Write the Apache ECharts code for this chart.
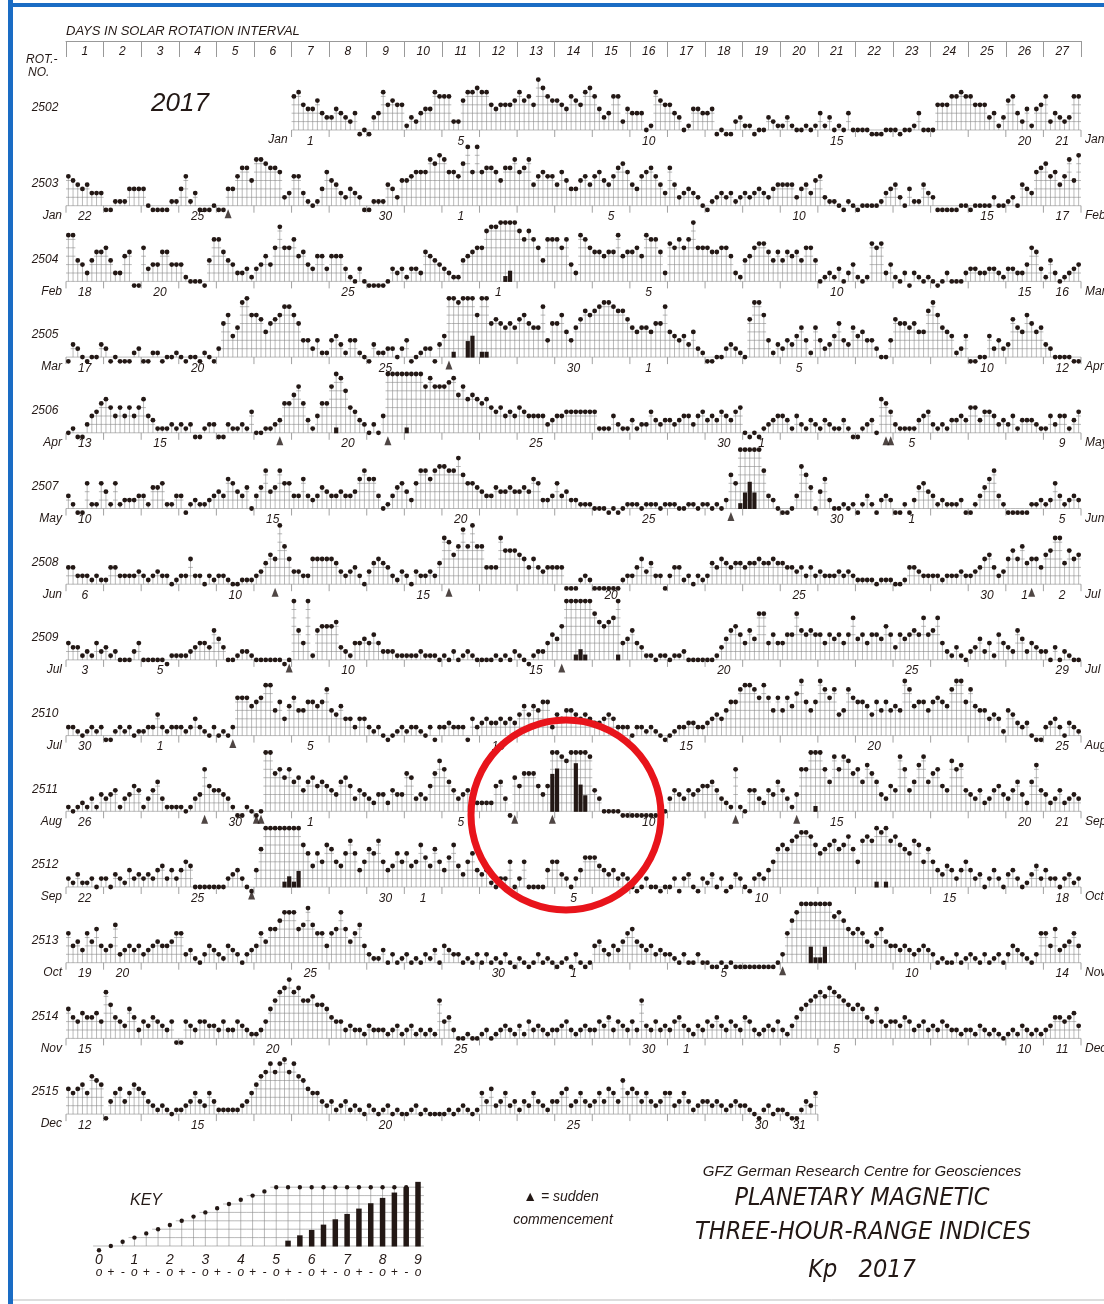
<!DOCTYPE html>
<html><head><meta charset="utf-8">
<script src="https://cdn.jsdelivr.net/npm/echarts@6/dist/echarts.min.js"></script>
<style>html,body{margin:0;padding:0;background:#fff;}#c{width:1104px;height:1304px;}</style>
</head><body><div id="c"></div>
<script>
// ---------------- DATA (Kp in thirds: 0o=0, 0+=1, 1-=2, 1o=3 ... 9o=27), 8 values per day ----------------
const rotNumbers = [2502,2503,2504,2505,2506,2507,2508,2509,2510,2511,2512,2513,2514,2515];
const rowStartDay = [7,1,1,1,1,1,1,1,1,1,1,1,1,1];
const dayNumbers = ['1','2','3','4','5','6','7','8','9','10','11','12','13','14','15','16','17','18','19','20','21','22','23','24','25','26','27'];
const monthNames = ['Jan','Feb','Mar','Apr','May','Jun','Jul','Aug','Sep','Oct','Nov','Dec'];
const labelledDates = [1,5,10,15,20,25,30];

const rot2502 = [
 9,10,7,6,6,8,5,4, 4,6,5,4,3,5,0,1, 0,4,5,10,7,8,7,7, 2,4,3,5,6,6,10,9, 9,9,3,3,8,10,10,11,
 10,10,7,6,7,7,7,8, 10,8,9,7,13,11,9,8, 8,7,6,9,8,7,10,11, 9,6,4,5,9,9,3,6, 5,5,5,1,2,10,8,7,
 7,5,4,1,2,6,6,5, 5,6,0,1,0,0,3,4, 2,2,0,1,1,4,3,2, 2,4,2,1,1,2,1,2, 5,2,4,1,2,1,5,1,
 1,1,1,0,0,0,1,1, 1,0,1,1,2,5,1,1, 1,7,7,7,9,9,10,9, 9,7,7,7,4,5,2,4, 8,9,5,3,6,2,6,7,
 9,3,5,4,3,4,9,9];
const rot2503 = [
 8,7,6,5,6,4,4,4, 0,0,2,2,2,5,5,5, 5,1,0,0,0,0,2,2, 5,8,2,4,0,0,0,1, 0,0,5,5,8,10,10,7,
 12,12,11,10,10,9,3,4, 8,8,4,2,1,2,5,9, 7,6,4,3,5,4,3,0, 0,2,2,2,6,5,3,7, 7,8,9,9,9,12,11,13,
 12,9,9,8,11,15,9,15, 9,10,10,9,7,10,10,12, 9,10,12,6,8,9,8,8, 6,9,7,5,5,7,8,6, 8,9,7,6,8,10,11,9,
 6,5,8,9,10,8,6,4, 10,6,3,4,5,4,3,1, 0,2,3,4,3,4,2,3, 4,3,4,5,4,3,5,6, 6,6,6,3,5,6,4,7,
 8,3,2,2,1,0,2,1, 0,1,1,1,1,2,4,5, 6,3,1,5,2,2,6,4, 3,0,0,0,0,0,1,1, 0,1,1,1,1,3,1,1,
 2,3,1,6,5,4,9,10, 11,8,9,6,8,12,7,13];
const rot2504 = [
 12,12,6,5,3,6,8,8, 9,6,3,3,7,8,0,0, 9,4,5,5,8,8,5,5, 5,2,1,1,1,0,6,11, 11,8,6,5,3,3,4,2,
 4,5,7,5,9,14,9,9, 11,7,8,5,4,7,7,4, 7,7,7,4,2,1,4,1, 0,0,0,0,1,4,3,4, 2,4,4,3,8,7,6,5,
 4,3,2,2,6,7,8,9, 9,13,14,14,15,16,17,15, 13,11,13,11,9,6,11,11, 11,9,11,5,3,12,11,9, 8,8,7,8,8,12,7,8,
 8,9,7,12,11,11,8,3, 10,9,11,9,11,15,9,9, 9,8,8,9,9,7,3,2, 6,7,9,10,10,8,6,8, 6,8,7,8,6,9,9,6,
 1,2,3,2,4,1,3,5, 2,1,2,10,9,10,3,5, 2,1,3,0,3,2,1,2, 1,0,1,3,1,1,1,3, 4,4,3,3,4,4,3,2,
 4,4,3,3,5,9,8,4, 2,6,3,1,2,3,4,5];
const rot2505 = [
 0,4,3,1,0,1,1,4, 3,0,1,0,0,0,2,3, 0,0,2,2,0,1,1,2, 1,0,1,1,0,2,1,0, 3,9,11,6,8,14,15,11,
 11,10,7,9,10,11,13,13, 11,9,5,5,3,5,2,2, 5,6,4,2,5,5,2,1, 0,4,2,2,3,3,1,3, 5,0,1,2,3,3,0,4,
 6,15,16,14,15,18,19,11, 16,16,9,10,9,8,9,8, 10,11,9,8,8,13,5,9, 9,11,7,5,8,10,12,11, 12,13,14,14,13,12,12,10,
 8,7,8,8,7,9,9,13, 7,6,5,6,4,7,3,2, 0,0,1,1,3,4,3,2, 1,10,14,14,11,5,2,4, 3,5,4,6,8,5,2,8,
 5,3,4,6,9,5,4,8, 6,7,5,5,3,1,1,5, 10,9,9,8,9,7,7,12, 14,11,8,7,6,2,3,6, 0,0,1,1,6,3,5,3,
 4,10,8,7,11,9,7,8, 4,3,1,1,1,1,0,0];
const rot2506 = [
 1,2,0,0,3,5,6,8, 9,7,5,7,5,7,5,7, 9,5,4,2,2,2,3,2, 3,2,3,0,0,2,3,3, 0,0,3,2,2,3,2,6,
 1,1,2,2,3,4,8,8, 10,12,8,4,2,5,8,8, 12,16,14,11,7,6,4,3, 1,3,1,5,15,15,15,15, 16,15,15,15,12,14,12,12,
 12,13,14,10,12,9,10,9, 8,9,7,6,7,5,6,5, 7,6,5,5,5,5,3,4, 5,5,6,6,6,6,6,6, 6,2,2,2,5,3,2,2,
 4,2,3,3,6,4,3,4, 4,3,4,5,5,3,5,6, 4,5,4,6,5,4,6,7, 1,0,1,0,2,3,4,5, 5,4,2,5,3,2,4,3,
 2,4,3,2,2,4,2,0, 0,2,3,4,1,9,8,6, 3,2,2,2,2,4,5,6, 3,2,3,2,4,4,5,4, 7,7,4,6,6,5,3,4,
 3,5,2,4,4,4,3,2, 2,5,3,5,5,2,4,6];
const rot2507 = [
 4,2,0,0,7,2,2,7, 5,2,7,2,3,3,3,4, 4,2,6,6,7,2,2,4, 4,0,2,3,2,2,3,4, 5,4,8,7,5,4,6,1,
 4,6,10,5,6,10,7,7, 4,4,8,4,3,4,6,5, 4,4,5,4,4,5,8,10, 8,8,4,1,2,4,6,7, 5,3,7,10,10,8,10,11,
 11,10,10,13,9,7,7,6, 5,4,4,6,5,5,6,5, 5,6,5,8,7,3,3,4, 7,4,5,3,3,2,2,2, 1,1,1,0,1,0,1,2,
 2,2,1,2,2,2,1,2, 2,2,1,1,2,2,1,2, 2,1,2,1,3,9,7,16, 18,20,18,15,10,4,3,1, 0,0,1,4,11,9,6,1,
 5,8,3,1,1,2,1,2, 0,2,4,2,0,3,4,3, 0,0,2,0,3,6,7,5, 4,2,3,2,2,2,3,0, 0,2,4,6,8,10,4,2,
 0,0,0,0,0,2,2,3, 2,3,7,4,2,3,4,3];
const rot2508 = [
 5,5,3,3,3,2,3,2, 2,5,5,3,3,3,3,4, 3,2,3,4,3,3,1,2, 3,3,7,3,3,1,3,2, 3,3,2,1,1,2,2,2,
 3,4,6,8,7,15,10,7, 4,4,3,3,7,7,7,7, 7,6,4,3,4,5,3,1, 4,6,7,6,5,3,2,4, 3,1,4,3,3,4,3,6,
 12,11,8,10,14,10,15,10, 10,5,5,5,12,9,9,9, 8,7,5,7,5,4,5,5, 5,5,0,0,0,2,3,2, 0,0,0,0,0,0,2,3,
 3,5,7,4,6,3,3,0, 3,5,5,2,3,1,3,2, 3,6,5,7,6,5,6,6, 5,6,6,7,6,6,7,6, 6,5,5,4,5,3,5,3,
 4,3,3,3,4,3,4,3, 2,2,2,2,1,2,2,2, 1,1,2,5,5,4,3,3, 3,3,2,3,3,3,4,3, 3,4,5,7,8,5,3,4,
 7,9,7,10,6,7,7,5, 8,9,12,12,6,9,7,8];
const rot2509 = [
 5,4,4,2,3,2,5,3, 4,2,3,1,1,1,3,5, 1,1,1,1,1,0,2,2, 2,2,3,4,5,5,4,8, 6,4,1,1,2,3,3,2,
 1,1,1,1,1,1,0,1, 15,8,5,15,2,8,9,9, 9,10,4,3,2,5,5,6, 5,7,5,3,3,3,2,2, 2,2,2,3,2,2,2,1,
 2,1,3,1,2,3,2,1, 1,1,1,2,1,2,1,3, 2,1,0,2,3,3,5,7, 6,9,15,15,16,17,16,15, 12,10,9,10,11,16,5,6,
 8,5,4,2,2,1,2,2, 1,2,2,3,1,1,1,1, 1,1,2,4,6,8,9,7, 5,8,6,12,12,5,7,5, 5,7,7,12,8,7,8,7,
 7,5,7,6,7,5,7,11, 6,7,5,7,7,6,9,7, 4,7,6,7,8,7,11,7, 8,11,5,3,2,4,2,1, 3,4,6,3,5,2,7,5,
 4,3,8,6,3,5,4,3, 3,1,4,1,3,2,1,1];
const rot2510 = [
 3,3,2,1,2,3,2,3, 0,0,2,3,2,3,1,2, 2,3,3,6,3,2,3,3, 3,2,3,5,3,2,1,3, 1,2,1,3,10,10,10,8,
 9,10,13,13,7,9,5,8, 10,7,7,9,9,8,9,12, 7,6,8,5,5,3,5,5, 3,2,3,1,0,1,2,3, 2,3,3,2,1,3,0,3,
 3,4,3,3,3,0,5,3, 4,5,4,4,5,4,5,4, 6,8,6,8,7,9,9,3, 6,5,7,7,6,5,6,5, 4,4,5,6,5,3,3,3,
 1,3,3,2,3,2,1,0, 1,2,3,3,4,4,3,3, 4,5,6,5,7,9,9,12, 13,13,12,10,13,10,7,10, 7,10,8,11,14,9,7,9,
 14,12,10,12,6,7,12,10, 9,9,8,6,9,7,9,7, 8,7,14,12,8,9,9,7, 9,10,9,8,12,14,14,9, 12,8,7,7,5,6,5,2,
 7,6,4,3,4,1,0,0, 3,4,5,3,1,4,3,2];
const rot2511 = [
 2,1,2,3,2,4,2,5, 4,5,6,2,4,5,7,6, 2,4,6,8,4,2,2,2, 2,1,2,4,5,11,7,6, 6,5,4,2,0,0,2,1,
 0,1,15,15,10,11,9,11, 8,9,6,8,9,7,8,7, 6,5,8,9,7,4,6,5, 4,3,5,5,3,6,5,5, 10,9,4,5,4,7,10,13,
 11,8,6,4,5,6,3,3, 3,3,3,7,8,4,0,9, 7,10,10,10,7,5,7,22, 23,14,13,15,24,20,18,14, 6,4,1,1,1,1,0,0,
 0,0,0,0,0,0,0,1, 4,6,5,4,6,5,6,7, 7,8,6,4,3,2,11,2, 1,6,6,4,3,6,5,8, 6,4,2,5,11,11,15,16,
 15,11,8,14,11,14,13,10, 11,8,12,10,8,5,4,7, 6,14,11,6,8,12,14,8, 10,11,7,6,13,11,12,6, 5,4,6,3,4,6,7,5,
 4,6,8,5,3,8,12,6, 5,3,4,6,3,4,5,4];
const rot2512 = [
 3,2,4,2,2,3,1,3, 3,1,4,3,2,5,3,4, 3,4,3,5,6,3,5,3, 5,7,6,1,1,1,1,1, 1,1,3,4,5,3,1,0,
 5,10,15,15,15,15,16,17, 16,18,11,9,6,9,7,11, 10,7,6,9,12,9,5,7, 10,9,12,7,5,6,9,7, 9,6,7,11,8,6,10,7,
 5,8,11,6,4,7,9,5, 4,5,2,1,3,3,7,1, 3,7,1,1,1,1,5,7, 7,4,3,1,3,5,8,8, 8,6,5,4,5,3,4,3,
 1,0,1,3,1,1,0,1, 1,3,0,3,4,1,0,3, 2,4,1,3,0,1,4,3, 1,0,3,4,3,5,7,10, 11,10,12,13,14,14,13,11,
 9,10,11,12,10,11,13,10, 7,12,13,12,16,14,16,12, 13,11,10,9,12,11,7,10, 7,5,4,6,5,3,5,7, 5,3,4,1,3,5,3,1,
 4,5,3,1,2,4,6,3, 5,3,3,1,3,4,2,3];
const rot2513 = [
 8,5,6,4,8,6,9,5, 4,5,10,3,4,5,4,5, 3,4,5,6,5,5,6,8, 8,3,4,2,1,3,5,4, 3,2,5,4,3,1,3,4,
 5,8,6,9,9,11,13,13, 13,9,10,14,10,8,8,5, 8,9,13,9,6,8,10,5, 3,2,2,4,1,3,1,2, 3,1,2,1,3,2,4,1,
 5,4,3,3,1,2,1,3, 1,3,1,2,1,3,1,0, 2,1,0,1,3,1,2,1, 0,1,2,0,3,1,0,1, 5,6,4,3,5,4,6,8,
 9,6,5,4,5,3,4,3, 3,2,1,3,1,1,3,1, 1,0,0,1,0,1,0,0, 0,0,0,0,0,0,0,1, 3,8,11,13,15,15,18,16,
 16,18,15,12,13,11,9,8, 9,8,6,5,8,9,6,5, 5,4,5,4,3,4,5,4, 3,1,2,1,1,3,1,2, 3,2,1,3,1,2,3,1,
 3,5,4,3,2,1,3,8, 8,5,9,4,5,6,8,5];
const rot2514 = [
 8,6,5,7,6,6,7,5, 12,9,6,5,4,8,6,3, 5,4,6,5,4,3,5,0, 0,5,4,3,5,5,4,4, 3,5,3,3,5,4,3,2,
 2,3,5,8,10,12,13,15, 12,13,10,10,11,9,9,8, 6,5,5,3,4,3,3,2, 4,3,3,3,2,3,4,2, 3,4,2,3,2,3,2,10,
 5,6,3,1,1,2,1,1, 2,3,1,2,3,4,3,2, 4,2,5,3,4,3,2,3, 3,4,5,3,2,3,4,3, 3,5,4,6,3,5,4,3,
 5,3,10,4,3,5,3,4, 3,5,6,4,3,2,4,3, 5,4,6,4,3,5,4,3, 6,5,3,2,3,4,3,5, 3,2,4,6,8,9,10,11,
 12,11,13,12,11,10,9,8, 9,8,6,5,8,5,4,5, 5,4,6,5,3,4,5,3, 4,3,5,4,3,3,2,3, 3,2,4,3,2,3,2,1,
 2,3,2,4,3,2,3,2, 3,4,6,6,5,6,7,4];
const rot2515 = [
 7,6,7,8,6,10,9,8, 0,4,6,7,4,6,8,7, 6,4,3,2,3,2,1,2, 2,3,4,6,4,3,6,4, 2,2,2,2,2,3,4,6,
 8,10,11,13,11,13,14,11, 13,10,9,7,6,6,4,3, 4,2,3,4,2,3,2,1, 3,2,1,2,3,1,2,1, 1,2,3,1,2,1,1,1,
 1,2,1,2,3,2,1,2, 6,4,7,3,4,6,3,4, 2,4,3,6,4,3,2,4, 4,6,7,3,4,6,4,3, 4,6,4,7,6,4,9,6,
 7,6,4,6,4,3,4,6, 6,3,4,6,4,2,3,4, 4,3,4,3,2,3,4,3, 3,2,1,0,2,3,1,2, 2,1,0,0,2,4,3,6];

// sudden commencements: [row index, 3-hour slot index within the rotation]
const scEvents = [[1,34],[3,81],[4,45],[4,68],[4,174],[4,175],[5,141],[6,44],[6,81],[6,205],
  [7,47],[7,105],[8,35],[9,29],[9,40],[9,41],[9,95],[9,103],[9,142],[9,155],[10,39],[11,152]];

// key: every Kp step from 0o to 9o
const keyValues = [0,1,2,3,4,5,6,7,8,9,10,11,12,13,14,15,16,17,18,19,20,21,22,23,24,25,26,27];
const keySymbols = ['o','+','-'];

// ---------------- LAYOUT / STYLE ----------------
const rowData = [rot2502,rot2503,rot2504,rot2505,rot2506,rot2507,rot2508,rot2509,rot2510,rot2511,rot2512,rot2513,rot2514,rot2515];
const INK = '#231815', GRID = '#8a8a8a';
const FONT = '"Liberation Sans", Arial, Helvetica, sans-serif';
const PLOT_L = 66, PLOT_W = 1015, DAY_W = PLOT_W / 27;
const BASE0 = 130, ROW_STEP = 75.7, UNIT = 4.2;
const gridLevels = [1,3,5,7,9,11,13,15];

function rowBase(r){ return BASE0 + ROW_STEP * r; }

function stemRender(opts){
  return function(params, api){
    const i = api.value(0), t = api.value(1), last = api.value(2);
    const tc = Math.min(t, 15);
    const b = api.coord([i + 0.5, 1]);
    const xc = b[0], yb = b[1];
    const xl = api.coord([i, 1])[0], xr = api.coord([i + 1, 1])[0];
    const ch = [];
    for (const L of gridLevels){
      if (L <= Math.max(tc, 1)){
        const y = api.coord([i, L])[1];
        ch.push({type:'line', shape:{x1:xl, y1:y, x2:xr, y2:y}, style:{stroke:GRID, lineWidth:0.6}});
      }
    }
    if (tc > 1){
      ch.push({type:'line', shape:{x1:xc, y1:yb, x2:xc, y2:api.coord([i, tc])[1]}, style:{stroke:GRID, lineWidth:0.6}});
    }
    if (opts.dayTicks){
      if (i % 8 === 0) ch.push({type:'line', shape:{x1:xl, y1:yb, x2:xl, y2:yb + 7}, style:{stroke:GRID, lineWidth:0.8}});
      if (last) ch.push({type:'line', shape:{x1:xr, y1:yb, x2:xr, y2:yb + 7}, style:{stroke:GRID, lineWidth:0.8}});
    }
    if (t > 15){
      const tb = 1 + (t - 15) * 14 / 11;
      const yt = api.coord([i, tb])[1];
      ch.push({type:'rect', shape:{x:xc - opts.barW / 2, y:yt, width:opts.barW, height:yb - yt + 0.5}, style:{fill:INK}});
    }
    ch.push({type:'circle', shape:{cx:xc, cy:api.coord([i, tc])[1], r:opts.r}, style:{fill:INK}});
    return {type:'group', children:ch};
  };
}

function dateOf(r, d){ // d: 1-based day in rotation
  const g = r * 27 + d - 7;
  if (g < 0 || g > 364) return null;
  return new Date(Date.UTC(2017, 0, 1 + g));
}

const grids = [], xAxes = [], yAxes = [], series = [], graphics = [];
const italic = (size) => ({fontFamily: FONT, fontStyle: 'italic', fontSize: size, color: INK});

rowData.forEach((vals, r) => {
  const base = rowBase(r);
  grids.push({left: PLOT_L, width: PLOT_W, top: base - 15 * UNIT, height: 16 * UNIT});
  const nDays = vals.length / 8;
  const start = rowStartDay[r];
  const dayLabels = dayNumbers.map((_, k) => {
    const d = k + 1;
    if (d < start || d >= start + nDays) return '';
    const dt = dateOf(r, d);
    if (!dt) return '';
    const dm = dt.getUTCDate();
    if (d === start || d === start + nDays - 1 || labelledDates.includes(dm)) return String(dm);
    return '';
  });
  xAxes.push({gridIndex: r, type: 'value', min: 0, max: 216, show: false});
  xAxes.push({gridIndex: r, type: 'category', data: dayLabels, position: 'bottom', boundaryGap: true,
    axisLine: {show: false, onZero: false}, axisTick: {show: false}, splitLine: {show: false},
    axisLabel: Object.assign({interval: 0, margin: 1}, italic(12))});
  yAxes.push({gridIndex: r, type: 'value', min: 0, max: 16, show: false});
  const data = vals.map((v, k) => [(start - 1) * 8 + k, v, k === vals.length - 1 ? 1 : 0]);
  series.push({type: 'custom', xAxisIndex: 2 * r, yAxisIndex: r, renderItem: stemRender({barW: 4.2, r: 2.4, dayTicks: true}),
    data: data, encode: {x: 0, y: 1}, clip: false, silent: true});
  const sc = scEvents.filter(e => e[0] === r).map(e => [e[1] + 0.5, -0.9]);
  if (sc.length) series.push({type: 'scatter', xAxisIndex: 2 * r, yAxisIndex: r, data: sc, symbol: 'triangle',
    symbolSize: [7, 9], itemStyle: {color: INK}, clip: false, silent: true, z: 5});
  graphics.push({type: 'text', x: 45, y: base - 22, style: {text: String(rotNumbers[r]), font: 'italic 12px ' + FONT, fill: INK, textAlign: 'center', textVerticalAlign: 'middle', align: 'center', verticalAlign: 'middle'}});
  const firstDt = dateOf(r, start), lastDt = dateOf(r, start + nDays - 1);
  const xStart = PLOT_L + (start - 1) * DAY_W, xEnd = PLOT_L + (start - 1 + nDays) * DAY_W;
  graphics.push({type: 'text', x: xStart - 4, y: base + 10, style: {text: monthNames[firstDt.getUTCMonth()], font: 'italic 12px ' + FONT, fill: INK, textAlign: 'right', textVerticalAlign: 'middle', align: 'right', verticalAlign: 'middle'}});
  if (r < rowData.length - 1)
    graphics.push({type: 'text', x: xEnd + 4, y: base + 10, style: {text: monthNames[lastDt.getUTCMonth()], font: 'italic 12px ' + FONT, fill: INK, textAlign: 'left', textVerticalAlign: 'middle', align: 'left', verticalAlign: 'middle'}});
});

// header axis with day numbers
const hg = grids.length;
grids.push({left: PLOT_L, width: PLOT_W, top: 41, height: 20});
xAxes.push({gridIndex: hg, type: 'category', data: dayNumbers, position: 'top', boundaryGap: true,
  axisLine: {show: true, onZero: false, lineStyle: {color: '#999', width: 1}},
  axisTick: {show: true, inside: true, length: 16, lineStyle: {color: '#999', width: 1}},
  axisLabel: Object.assign({inside: true, interval: 0, margin: 5}, italic(12))});
yAxes.push({gridIndex: hg, type: 'value', min: 0, max: 1, show: false});

// key
const kg = grids.length;
const KEY_SLOT = 11.815, KEY_BASE = 1246;
grids.push({left: 99 - KEY_SLOT / 2, width: KEY_SLOT * 28, top: KEY_BASE - 15 * UNIT, height: 16 * UNIT});
const kxv = xAxes.length;
xAxes.push({gridIndex: kg, type: 'value', min: 0, max: 28, show: false});
xAxes.push({gridIndex: kg, type: 'category', data: keyValues.map(String), position: 'bottom', boundaryGap: true,
  axisLine: {show: false, onZero: false}, axisTick: {show: false},
  axisLabel: {interval: 0, margin: 3, formatter: (v, idx) => '{n|' + (idx % 3 === 0 ? idx / 3 : ' ') + '}\n{s|' + keySymbols[idx % 3] + '}',
    rich: {n: {fontFamily: FONT, fontStyle: 'italic', fontSize: 14, lineHeight: 13, color: INK},
           s: {fontFamily: FONT, fontStyle: 'italic', fontSize: 12, lineHeight: 12, color: INK}}}});
const kyi = yAxes.length;
yAxes.push({gridIndex: kg, type: 'value', min: 0, max: 16, show: false});
series.push({type: 'custom', xAxisIndex: kxv, yAxisIndex: kyi, renderItem: stemRender({barW: 5.5, r: 2.2, dayTicks: false}),
  data: keyValues.map((v, k) => [k, v, 0]), encode: {x: 0, y: 1}, clip: false, silent: true});

// static texts & frame
function txt(x, y, s, size, align, fam){
  graphics.push({type: 'text', x: x, y: y, style: {text: s, font: 'italic ' + size + 'px ' + (fam || FONT), fill: INK,
    textAlign: align, textVerticalAlign: 'middle', align: align, verticalAlign: 'middle'}});
}
const NARROW = '"Liberation Sans Narrow", "DejaVu Sans Condensed", ' + FONT;
txt(66, 31, 'DAYS IN SOLAR ROTATION INTERVAL', 13, 'left');
txt(26, 60, 'ROT.-', 12, 'left');
txt(28, 73, 'NO.', 12, 'left');
txt(180, 104, '2017', 26, 'center');
txt(146, 1201, 'KEY', 16, 'center');
txt(561, 1197, '\u25B2 = sudden', 14, 'center');
txt(563, 1220, 'commencement', 14, 'center');
txt(862, 1172, 'GFZ German Research Centre for Geosciences', 15, 'center');
txt(862, 1198, 'PLANETARY MAGNETIC', 25, 'center', NARROW);
txt(863, 1232, 'THREE-HOUR-RANGE INDICES', 25, 'center', NARROW);
txt(862, 1270, 'Kp   2017', 25, 'center', NARROW);
graphics.push({type: 'rect', shape: {x: 8, y: 0, width: 5, height: 1304}, style: {fill: '#1a6cc4'}, z: 50});
graphics.push({type: 'rect', shape: {x: 8, y: 3, width: 1096, height: 4}, style: {fill: '#1a6cc4'}, z: 50});
graphics.push({type: 'line', shape: {x1: 13, y1: 1300, x2: 1104, y2: 1300}, style: {stroke: '#bbb', lineWidth: 1}, z: 50});
graphics.push({type: 'circle', shape: {cx: 566, cy: 815, r: 95}, style: {fill: 'none', stroke: '#e8141b', lineWidth: 7}, z: 100});

const chart = echarts.init(document.getElementById('c'), null, {renderer: 'canvas'});
chart.setOption({
  animation: false,
  backgroundColor: '#fff',
  grid: grids, xAxis: xAxes, yAxis: yAxes, series: series,
  graphic: {elements: graphics}
});
</script></body></html>
